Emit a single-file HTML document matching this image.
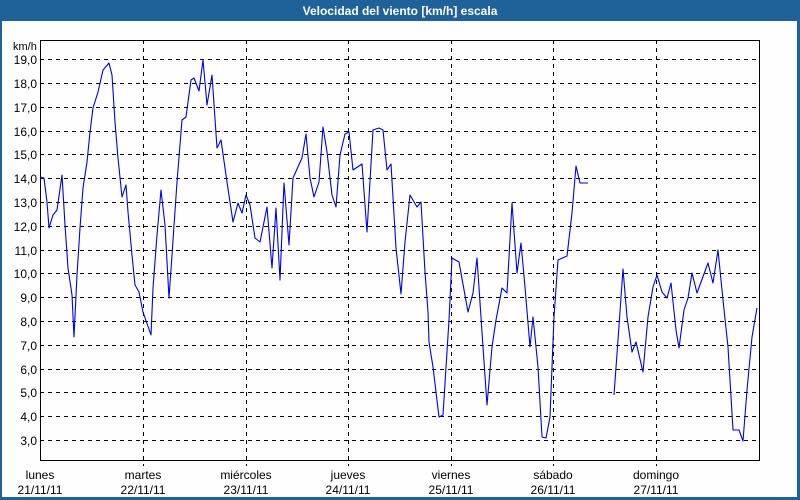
<!DOCTYPE html>
<html><head><meta charset="utf-8"><style>
body{margin:0;background:#fff;}
svg{display:block;font-family:"Liberation Sans",Verdana,sans-serif;}
</style></head><body>
<svg width="800" height="500" viewBox="0 0 800 500" xmlns="http://www.w3.org/2000/svg">
<rect x="0" y="0" width="800" height="500" fill="#1f6299"/>
<rect x="2" y="21" width="795" height="476" fill="#fdfefd"/>
<text x="400" y="15" fill="#fff" font-size="12" font-weight="bold" text-anchor="middle">Velocidad del viento [km/h] escala</text>
<g stroke="#000" stroke-width="1" stroke-dasharray="4,4" fill="none">
<path d="M40 59.5H760M40 83.5H760M40 107.5H760M40 131.5H760M40 154.5H760M40 178.5H760M40 202.5H760M40 226.5H760M40 250.5H760M40 273.5H760M40 297.5H760M40 321.5H760M40 345.5H760M40 369.5H760M40 392.5H760M40 416.5H760M40 440.5H760"/>
<path d="M143.5 40V466M246.5 40V466M348.5 40V466M451.5 40V466M553.5 40V466M656.5 40V466"/>
</g>
<rect x="40.5" y="40.5" width="719" height="420" fill="none" stroke="#000" stroke-width="1"/>
<g font-size="12" fill="#000" text-anchor="end">
<text x="37" y="64">19,0</text><text x="37" y="88">18,0</text><text x="37" y="112">17,0</text><text x="37" y="136">16,0</text><text x="37" y="159">15,0</text><text x="37" y="183">14,0</text><text x="37" y="207">13,0</text><text x="37" y="231">12,0</text><text x="37" y="255">11,0</text><text x="37" y="278">10,0</text><text x="37" y="302">9,0</text><text x="37" y="326">8,0</text><text x="37" y="350">7,0</text><text x="37" y="374">6,0</text><text x="37" y="397">5,0</text><text x="37" y="421">4,0</text><text x="37" y="445">3,0</text>
</g>
<text x="13" y="50" font-size="11">km/h</text>
<g font-size="12" fill="#000" text-anchor="middle">
<text x="40" y="479">lunes</text><text x="40" y="494">21/11/11</text>
<text x="143" y="479">martes</text><text x="143" y="494">22/11/11</text>
<text x="246" y="479">miércoles</text><text x="246" y="494">23/11/11</text>
<text x="348" y="479">jueves</text><text x="348" y="494">24/11/11</text>
<text x="451" y="479">viernes</text><text x="451" y="494">25/11/11</text>
<text x="553" y="479">sábado</text><text x="553" y="494">26/11/11</text>
<text x="656" y="479">domingo</text><text x="656" y="494">27/11/11</text>
</g>
<g fill="none" stroke="#0000ee" stroke-width="1.1" stroke-linejoin="round">
<polyline points="40,177 44,178 47,202 49,228 53,215 57,210 62,175 65,225 68,268 72,295 74,337 77,275 80,228 83,188 87,162 90,132 93,108 98,92 103,70 109,63 112,75 115,122 118,158 122,197 126,185 128,212 132,255 135,285 139,292 143,312 151,335 153,288 157,235 161,190 165,225 169,298 172,255 177,182 182,120 186,117 191,80 194,78 199,91 203,60 207,105 212,75 217,148 221,140 227,182 233,222 238,203 240,208 242,213 246,195 250,205 255,238 260,242 267,207 272,268 276,208 280,280 284,183 289,245 293,178 302,158 306,134 310,178 314,197 319,182 323,127 327,152 332,195 336,207 340,155 345,134 349,132 353,170 362,164 367,232 373,130 379,128 383,130 387,170 391,164 396,248 401,294 405,242 410,195 417,207 421,202 425,272 428,312 429,342 433,367 439,417 443,415 449,320 452,258 459,262 468,312 473,293 477,258 483,347 487,405 492,347 496,320 502,288 507,293 512,203 517,273 521,243 525,287 530,347 533,317 538,367 542,437 546,438 550,417 554,317 558,260 567,256 572,213 576,166 580,183 588,183"/>
<polyline points="614,395 618,340 623,269 627,317 632,352 636,342 643,372 648,317 653,287 657,275 662,292 667,298 671,283 676,330 679,348 684,310 688,298 692,273 697,293 708,263 713,283 718,250 723,300 728,347 733,430 739,430 743,441 747,390 752,337 757,308"/>
</g>
</svg>
</body></html>
